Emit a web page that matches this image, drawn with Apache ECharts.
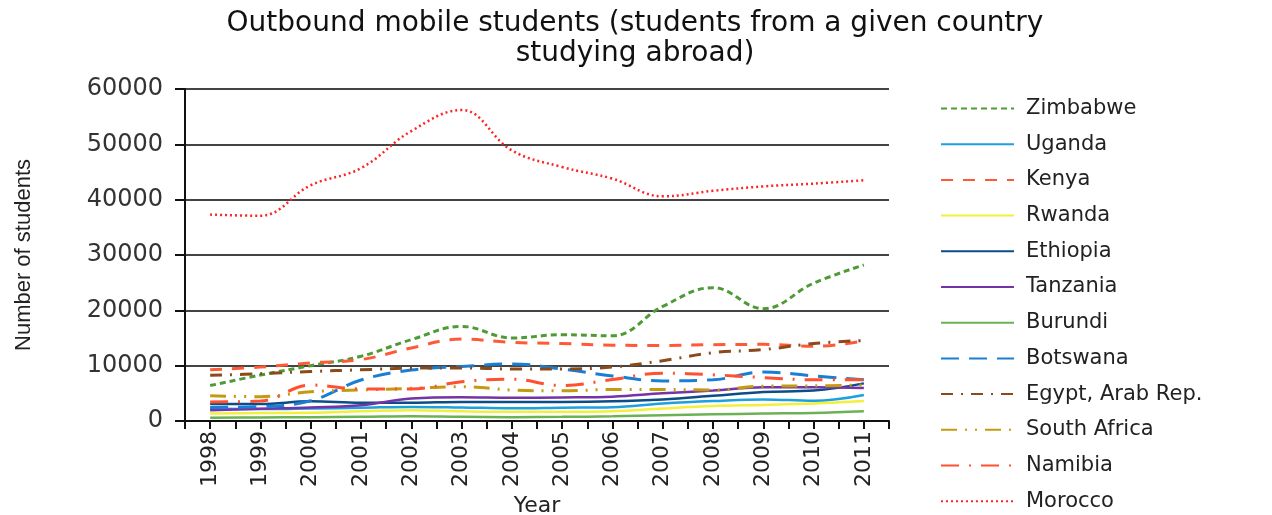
<!DOCTYPE html>
<html>
<head>
<meta charset="utf-8">
<script src="https://cdn.jsdelivr.net/npm/echarts@6/dist/echarts.min.js"></script>
<style>html,body{margin:0;padding:0;background:#fff}#c{width:1272px;height:515px}</style>
</head>
<body>
<div id="c"></div>
<script>
const years = [1998,1999,2000,2001,2002,2003,2004,2005,2006,2007,2008,2009,2010,2011];
const zimbabwe    = [6400, 8300, 10000, 11700, 14700, 17100, 15000, 15600, 15400, 20700, 24100, 20300, 24900, 28200];
const uganda      = [2250, 2150, 2250, 2400, 2550, 2450, 2300, 2400, 2500, 3150, 3600, 3900, 3650, 4700];
const kenya       = [9250, 9750, 10500, 11100, 13200, 14800, 14200, 14000, 13700, 13650, 13800, 13850, 13500, 14500];
const rwanda      = [1350, 1450, 1500, 1750, 1950, 1750, 1650, 1650, 1750, 2250, 2700, 2900, 3150, 3600];
const ethiopia    = [3050, 3050, 3550, 3300, 3300, 3450, 3450, 3450, 3550, 3900, 4550, 5250, 5500, 6800];
const tanzania    = [1950, 2200, 2450, 2850, 4050, 4300, 4200, 4250, 4400, 5000, 5500, 6100, 6100, 5950];
const burundi     = [600, 650, 700, 750, 850, 750, 700, 750, 850, 1050, 1200, 1350, 1450, 1750];
const botswana    = [2450, 2600, 3650, 7400, 9200, 9850, 10300, 9400, 8150, 7250, 7450, 8850, 8150, 7450];
const egypt       = [8250, 8550, 8950, 9250, 9550, 9600, 9400, 9400, 9750, 10900, 12350, 12900, 14000, 14550];
const southAfrica = [4550, 4400, 5300, 5600, 5900, 6200, 5600, 5450, 5700, 5700, 5600, 6300, 6350, 6500];
const namibia     = [3450, 3600, 6500, 5800, 5800, 7100, 7550, 6400, 7500, 8650, 8350, 7850, 7450, 7450];
const morocco     = [37300, 37100, 42600, 45700, 52400, 56200, 48900, 45900, 43800, 40600, 41600, 42400, 42900, 43500];

const seriesDefs = [
  {name:'Zimbabwe', data:zimbabwe, color:'#4e9a35', type:[6,4], width:3},
  {name:'Uganda', data:uganda, color:'#1ea0e0', type:'solid', width:2.5},
  {name:'Kenya', data:kenya, color:'#ff5a36', type:[12,10], width:3},
  {name:'Rwanda', data:rwanda, color:'#f2f03a', type:'solid', width:2.5},
  {name:'Ethiopia', data:ethiopia, color:'#0b4d86', type:'solid', width:2.5},
  {name:'Tanzania', data:tanzania, color:'#7433a6', type:'solid', width:2.5},
  {name:'Burundi', data:burundi, color:'#6cb255', type:'solid', width:2.5},
  {name:'Botswana', data:botswana, color:'#1a7ed2', type:[18,10], width:3},
  {name:'Egypt, Arab Rep.', data:egypt, color:'#8a4a1c', type:[12,8,2,8], width:3},
  {name:'South Africa', data:southAfrica, color:'#c49a10', type:[16,8,2,8,2,8], width:3},
  {name:'Namibia', data:namibia, color:'#ff5030', type:[18,10,2,10], width:3},
  {name:'Morocco', data:morocco, color:'#ff2424', type:[2,3], width:2.5}
];

const chart = echarts.init(document.getElementById('c'));
chart.setOption({
  backgroundColor:'#fff',
  animation:false,
  title:{
    text:'Outbound mobile students (students from a given country\nstudying abroad)',
    left:630, top:4, textAlign:'center',
    textStyle:{fontFamily:'DejaVu Sans', fontSize:28, fontWeight:'normal', color:'#111', lineHeight:30}
  },
  legend:{
    orient:'vertical', left:935, top:93, height:420,
    itemWidth:73, itemHeight:20, itemGap:14.7,
    itemStyle:{opacity:0},
    textStyle:{fontFamily:'DejaVu Sans', fontSize:21, color:'#222', padding:[0,0,0,7]},
    data:seriesDefs.map(s=>s.name)
  },
  grid:{left:185, right:383, top:89, bottom:94, containLabel:false, outerBoundsMode:'none'},
  xAxis:{
    type:'value', min:1997.5, max:2011.5, interval:0.5,
    name:'Year', nameLocation:'middle', nameGap:72,
    nameTextStyle:{fontFamily:'DejaVu Sans', fontSize:22, color:'#222'},
    axisLine:{show:true, lineStyle:{color:'#111', width:2}},
    axisTick:{show:true, length:8, lineStyle:{color:'#111', width:2}},
    axisLabel:{rotate:90, margin:10, fontFamily:'DejaVu Sans', fontSize:22, color:'#222',
      formatter:v => (Math.abs(v-Math.round(v))<1e-6 ? String(Math.round(v)) : '')},
    splitLine:{show:false}
  },
  yAxis:{
    type:'value', min:0, max:60000, interval:10000,
    name:'Number of students', nameLocation:'middle', nameGap:150, nameRotate:90,
    nameTextStyle:{fontFamily:'Liberation Sans', fontSize:22, color:'#222'},
    axisLine:{show:true, lineStyle:{color:'#111', width:2}},
    axisTick:{show:true, inside:false, length:10, lineStyle:{color:'#111', width:2}},
    axisLabel:{margin:22, fontFamily:'DejaVu Sans', fontSize:24, color:'#333', formatter:v=>String(v)},
    splitLine:{show:true, lineStyle:{color:'#444', width:2}}
  },
  series: seriesDefs.map(s=>({
    name:s.name, type:'line', smooth:0.4, symbol:'none',
    data: years.map((y,i)=>[y, s.data[i]]),
    itemStyle:{color:s.color},
    lineStyle:{color:s.color, width:s.width, type:s.type}
  }))
});
</script>
</body>
</html>
